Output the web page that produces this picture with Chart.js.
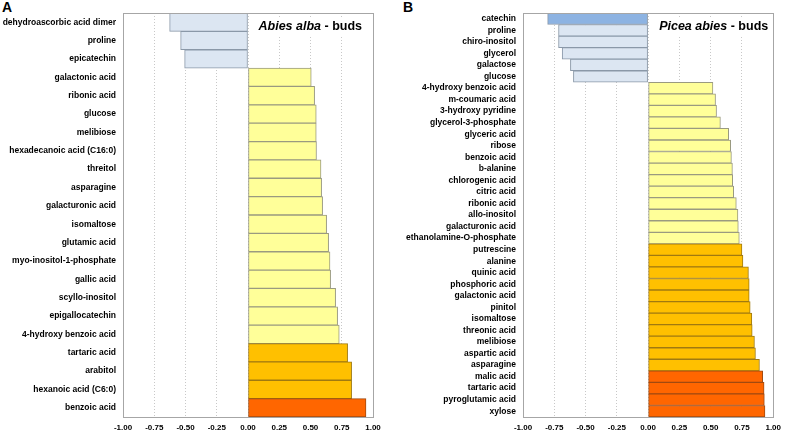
<!DOCTYPE html>
<html>
<head>
<meta charset="utf-8">
<script src="https://cdn.jsdelivr.net/npm/chart.js@4"></script>
<style>
  body { margin: 0; background: #fff; width: 787px; height: 434px; position: relative; overflow: hidden; font-family: "Liberation Sans", Arial, sans-serif; }
  .panel { position: absolute; top: 0; height: 434px; }
  .letter { position: absolute; top: -1px; font-weight: bold; font-size: 14px; color: #000; }
</style>
</head>
<body>
<div class="letter" style="left:2px;">A</div>
<div class="letter" style="left:403px;">B</div>
<div class="panel" style="left:0;width:390px;"><canvas id="chart-abies"></canvas></div>
<div class="panel" style="left:400px;width:387px;"><canvas id="chart-picea"></canvas></div>
<script>
// ---- Data ----
const abiesLabels = [
  'dehydroascorbic acid dimer', 'proline', 'epicatechin', 'galactonic acid', 'ribonic acid',
  'glucose', 'melibiose', 'hexadecanoic acid (C16:0)', 'threitol', 'asparagine',
  'galacturonic acid', 'isomaltose', 'glutamic acid', 'myo-inositol-1-phosphate', 'gallic acid',
  'scyllo-inositol', 'epigallocatechin', '4-hydroxy benzoic acid', 'tartaric acid', 'arabitol',
  'hexanoic acid (C6:0)', 'benzoic acid'
];
const abiesValues = [
  -0.627, -0.539, -0.507, 0.506, 0.533,
  0.546, 0.546, 0.548, 0.584, 0.589,
  0.597, 0.629, 0.645, 0.656, 0.661,
  0.701, 0.717, 0.730, 0.797, 0.829,
  0.829, 0.944
];

const piceaLabels = [
  'catechin', 'proline', 'chiro-inositol', 'glycerol', 'galactose', 'glucose',
  '4-hydroxy benzoic acid', 'm-coumaric acid', '3-hydroxy pyridine', 'glycerol-3-phosphate',
  'glyceric acid', 'ribose', 'benzoic acid', 'b-alanine', 'chlorogenic acid', 'citric acid',
  'ribonic acid', 'allo-inositol', 'galacturonic acid', 'ethanolamine-O-phosphate',
  'putrescine', 'alanine', 'quinic acid', 'phosphoric acid', 'galactonic acid', 'pinitol',
  'isomaltose', 'threonic acid', 'melibiose', 'aspartic acid', 'asparagine',
  'malic acid', 'tartaric acid', 'pyroglutamic acid', 'xylose'
];
const piceaValues = [
  -0.803, -0.716, -0.716, -0.687, -0.621, -0.597,
  0.518, 0.539, 0.547, 0.578,
  0.644, 0.660, 0.666, 0.674, 0.676, 0.684,
  0.705, 0.718, 0.721, 0.729,
  0.750, 0.758, 0.802, 0.808, 0.808, 0.816,
  0.829, 0.832, 0.850, 0.858, 0.890,
  0.916, 0.927, 0.929, 0.934
];

const xMin = -1;
const xMax = 1;
const xStep = 0.25;

// ---- Colour by correlation strength ----
function barColor(v) {
  if (v <= -0.75) return '#8db3e2';
  if (v < 0) return '#dce6f2';
  if (v < 0.75) return '#ffff99';
  if (v < 0.9) return '#ffc000';
  return '#ff6600';
}
function barBorder(v) {
  if (v < 0) return '#8a98a8';
  if (v < 0.75) return '#9a9a80';
  if (v < 0.9) return '#a07a10';
  return '#a04a10';
}

// ---- Frame + inset title ----
const framePlugin = {
  id: 'frame',
  beforeDatasetsDraw(chart, args, opts) {
    const ctx = chart.ctx;
    const a = chart.chartArea;
    ctx.save();
    ctx.font = 'bold italic 12.5px "Liberation Sans", Arial, sans-serif';
    const w1 = ctx.measureText(opts.italic).width;
    ctx.font = 'bold 12.5px "Liberation Sans", Arial, sans-serif';
    const w2 = ctx.measureText(opts.plain).width;
    const x = a.right - opts.right - w1 - w2;
    const y = 27;
    ctx.fillStyle = '#fff';
    ctx.fillRect(x - 4, 18, w1 + w2 + 8, 18);
    ctx.fillStyle = '#000';
    ctx.textBaseline = 'middle';
    ctx.font = 'bold italic 12.5px "Liberation Sans", Arial, sans-serif';
    ctx.fillText(opts.italic, x, y);
    ctx.font = 'bold 12.5px "Liberation Sans", Arial, sans-serif';
    ctx.fillText(opts.plain, x + w1, y);
    ctx.restore();
  },
  afterDatasetsDraw(chart) {
    const ctx = chart.ctx;
    const a = chart.chartArea;
    ctx.save();
    ctx.strokeStyle = '#a6a6a6';
    ctx.lineWidth = 1;
    ctx.strokeRect(Math.round(a.left) + 0.5, Math.round(a.top) + 0.5,
      Math.round(a.right - a.left), Math.round(a.bottom - a.top));
    ctx.restore();
  }
};

function makeChart(id, labels, values, axisWidth, padRight, titleItalic, titlePlain, titleRight) {
  return new Chart(document.getElementById(id), {
    type: 'bar',
    data: {
      labels,
      datasets: [{
        data: values,
        backgroundColor: values.map(barColor),
        borderColor: values.map(barBorder),
        borderWidth: 1,
        borderSkipped: false,
        barPercentage: 1,
        categoryPercentage: 1
      }]
    },
    options: {
      indexAxis: 'y',
      responsive: true,
      maintainAspectRatio: false,
      animation: false,
      layout: { padding: { top: 13, right: padRight, left: 0, bottom: 0 } },
      plugins: {
        legend: { display: false },
        tooltip: { enabled: false },
        frame: { italic: titleItalic, plain: titlePlain, right: titleRight }
      },
      scales: {
        x: {
          min: xMin,
          max: xMax,
          grid: { color: '#c8c8c8', drawTicks: false },
          border: { display: false, dash: [1, 2] },
          afterFit: s => { s.height = 17; },
          ticks: {
            stepSize: xStep,
            padding: 6,
            color: '#000',
            maxRotation: 0,
            font: { family: '"Liberation Sans", Arial, sans-serif', size: 8, weight: 'bold' },
            callback: v => v.toFixed(2)
          }
        },
        y: {
          grid: { display: false, drawTicks: false },
          border: { display: false },
          afterFit: s => { s.width = axisWidth; },
          ticks: {
            padding: 7,
            autoSkip: false,
            color: '#000',
            font: { family: '"Liberation Sans", Arial, sans-serif', size: 8.5, weight: 'bold' }
          }
        }
      }
    },
    plugins: [framePlugin]
  });
}

document.addEventListener('DOMContentLoaded', () => {
  makeChart('chart-abies', abiesLabels, abiesValues, 123, 17, 'Abies alba', ' - buds', 11);
  makeChart('chart-picea', piceaLabels, piceaValues, 123, 10, 'Picea abies', ' - buds', 5);
});
</script>
</body>
</html>
